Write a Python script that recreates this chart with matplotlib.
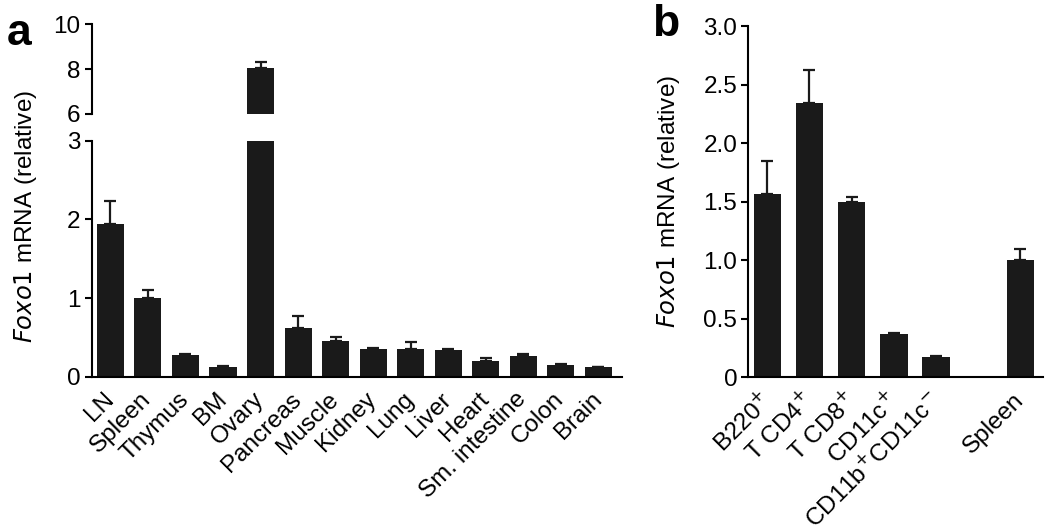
import numpy as np
import matplotlib.pyplot as plt

plt.rcParams['font.family'] = ['Liberation Sans', 'DejaVu Sans']

# panel a: tissues
tissues = ['LN', 'Spleen', 'Thymus', 'BM', 'Ovary', 'Pancreas', 'Muscle', 'Kidney',
           'Lung', 'Liver', 'Heart', 'Sm. intestine', 'Colon', 'Brain']
tissue_mean = [1.94, 1.00, 0.28, 0.12, 8.05, 0.62, 0.46, 0.35,
               0.35, 0.34, 0.20, 0.26, 0.15, 0.12]
tissue_err = [0.29, 0.10, 0.01, 0.02, 0.25, 0.15, 0.04, 0.01,
              0.09, 0.01, 0.04, 0.03, 0.005, 0.005]

# panel b: cell types
cells = ['B220$^{+}$', 'T CD4$^{+}$', 'T CD8$^{+}$', 'CD11c$^{+}$',
         'CD11b$^{+}$CD11c$^{-}$', 'Spleen']
cell_pos = [0, 1, 2, 3, 4, 6]
cell_mean = [1.56, 2.34, 1.50, 0.37, 0.17, 1.00]
cell_err = [0.29, 0.28, 0.04, 0.01, 0.01, 0.09]

bar_col = '#1a1a1a'
fs = 17.5
ylab = r'$\it{Foxo1}$ mRNA (relative)'

fig = plt.figure(figsize=(10.5, 5.31), dpi=100)
ax_lo = fig.add_axes([0.0873, 0.2906, 0.505, 0.4444])
ax_hi = fig.add_axes([0.0873, 0.786, 0.505, 0.168])
ax_b = fig.add_axes([0.7127, 0.290, 0.2804, 0.661])

x = np.arange(len(tissues))
for ax in (ax_lo, ax_hi):
    ax.bar(x, tissue_mean, width=0.72, color=bar_col, zorder=2)
    ax.errorbar(x, tissue_mean, yerr=[np.zeros(len(x)), tissue_err], fmt='none',
                ecolor=bar_col, elinewidth=1.6, capsize=4.5, capthick=1.6, zorder=1)
    ax.set_xlim(-0.5, 13.63)
    for s in ('top', 'right'):
        ax.spines[s].set_visible(False)
    ax.spines['left'].set_linewidth(1.5)
    ax.tick_params(axis='y', direction='out', length=5, width=1.5, labelsize=fs, pad=3)

ax_lo.set_ylim(0, 3)
ax_lo.set_yticks([0, 1, 2, 3])
ax_lo.spines['bottom'].set_linewidth(1.5)
ax_lo.set_xticks(x)
ax_lo.set_xticklabels(tissues, rotation=45, ha='right', va='center',
                      rotation_mode='anchor', fontsize=fs)
ax_lo.tick_params(axis='x', length=0, pad=14)

ax_hi.set_ylim(6, 10)
ax_hi.set_yticks([6, 8, 10])
ax_hi.spines['bottom'].set_visible(False)
ax_hi.set_xticks([])

fig.text(0.024, 0.592, ylab, rotation=90, ha='center', va='center', fontsize=fs)

# panel b
ax_b.bar(cell_pos, cell_mean, width=0.65, color=bar_col, zorder=2)
ax_b.errorbar(cell_pos, cell_mean, yerr=[np.zeros(len(cell_pos)), cell_err], fmt='none',
              ecolor=bar_col, elinewidth=1.6, capsize=4.5, capthick=1.6, zorder=1)
ax_b.set_xlim(-0.45, 6.53)
ax_b.set_ylim(0, 3)
ax_b.set_yticks([0, 0.5, 1.0, 1.5, 2.0, 2.5, 3.0])
ax_b.set_yticklabels(['0', '0.5', '1.0', '1.5', '2.0', '2.5', '3.0'])
for s in ('top', 'right'):
    ax_b.spines[s].set_visible(False)
ax_b.spines['left'].set_linewidth(1.5)
ax_b.spines['bottom'].set_linewidth(1.5)
ax_b.tick_params(axis='y', direction='out', length=5, width=1.5, labelsize=fs, pad=3)
ax_b.set_xticks(cell_pos)
ax_b.set_xticklabels(cells, rotation=45, ha='right', va='center',
                     rotation_mode='anchor', fontsize=fs)
ax_b.tick_params(axis='x', length=0, pad=14)
fig.text(0.637, 0.620, ylab, rotation=90, ha='center', va='center', fontsize=fs)

fig.text(0.006, 0.915, 'a', fontsize=32, fontweight='bold', ha='left', va='baseline')
fig.text(0.621, 0.933, 'b', fontsize=32, fontweight='bold', ha='left', va='baseline')

fig.savefig('out.png', dpi=100)
